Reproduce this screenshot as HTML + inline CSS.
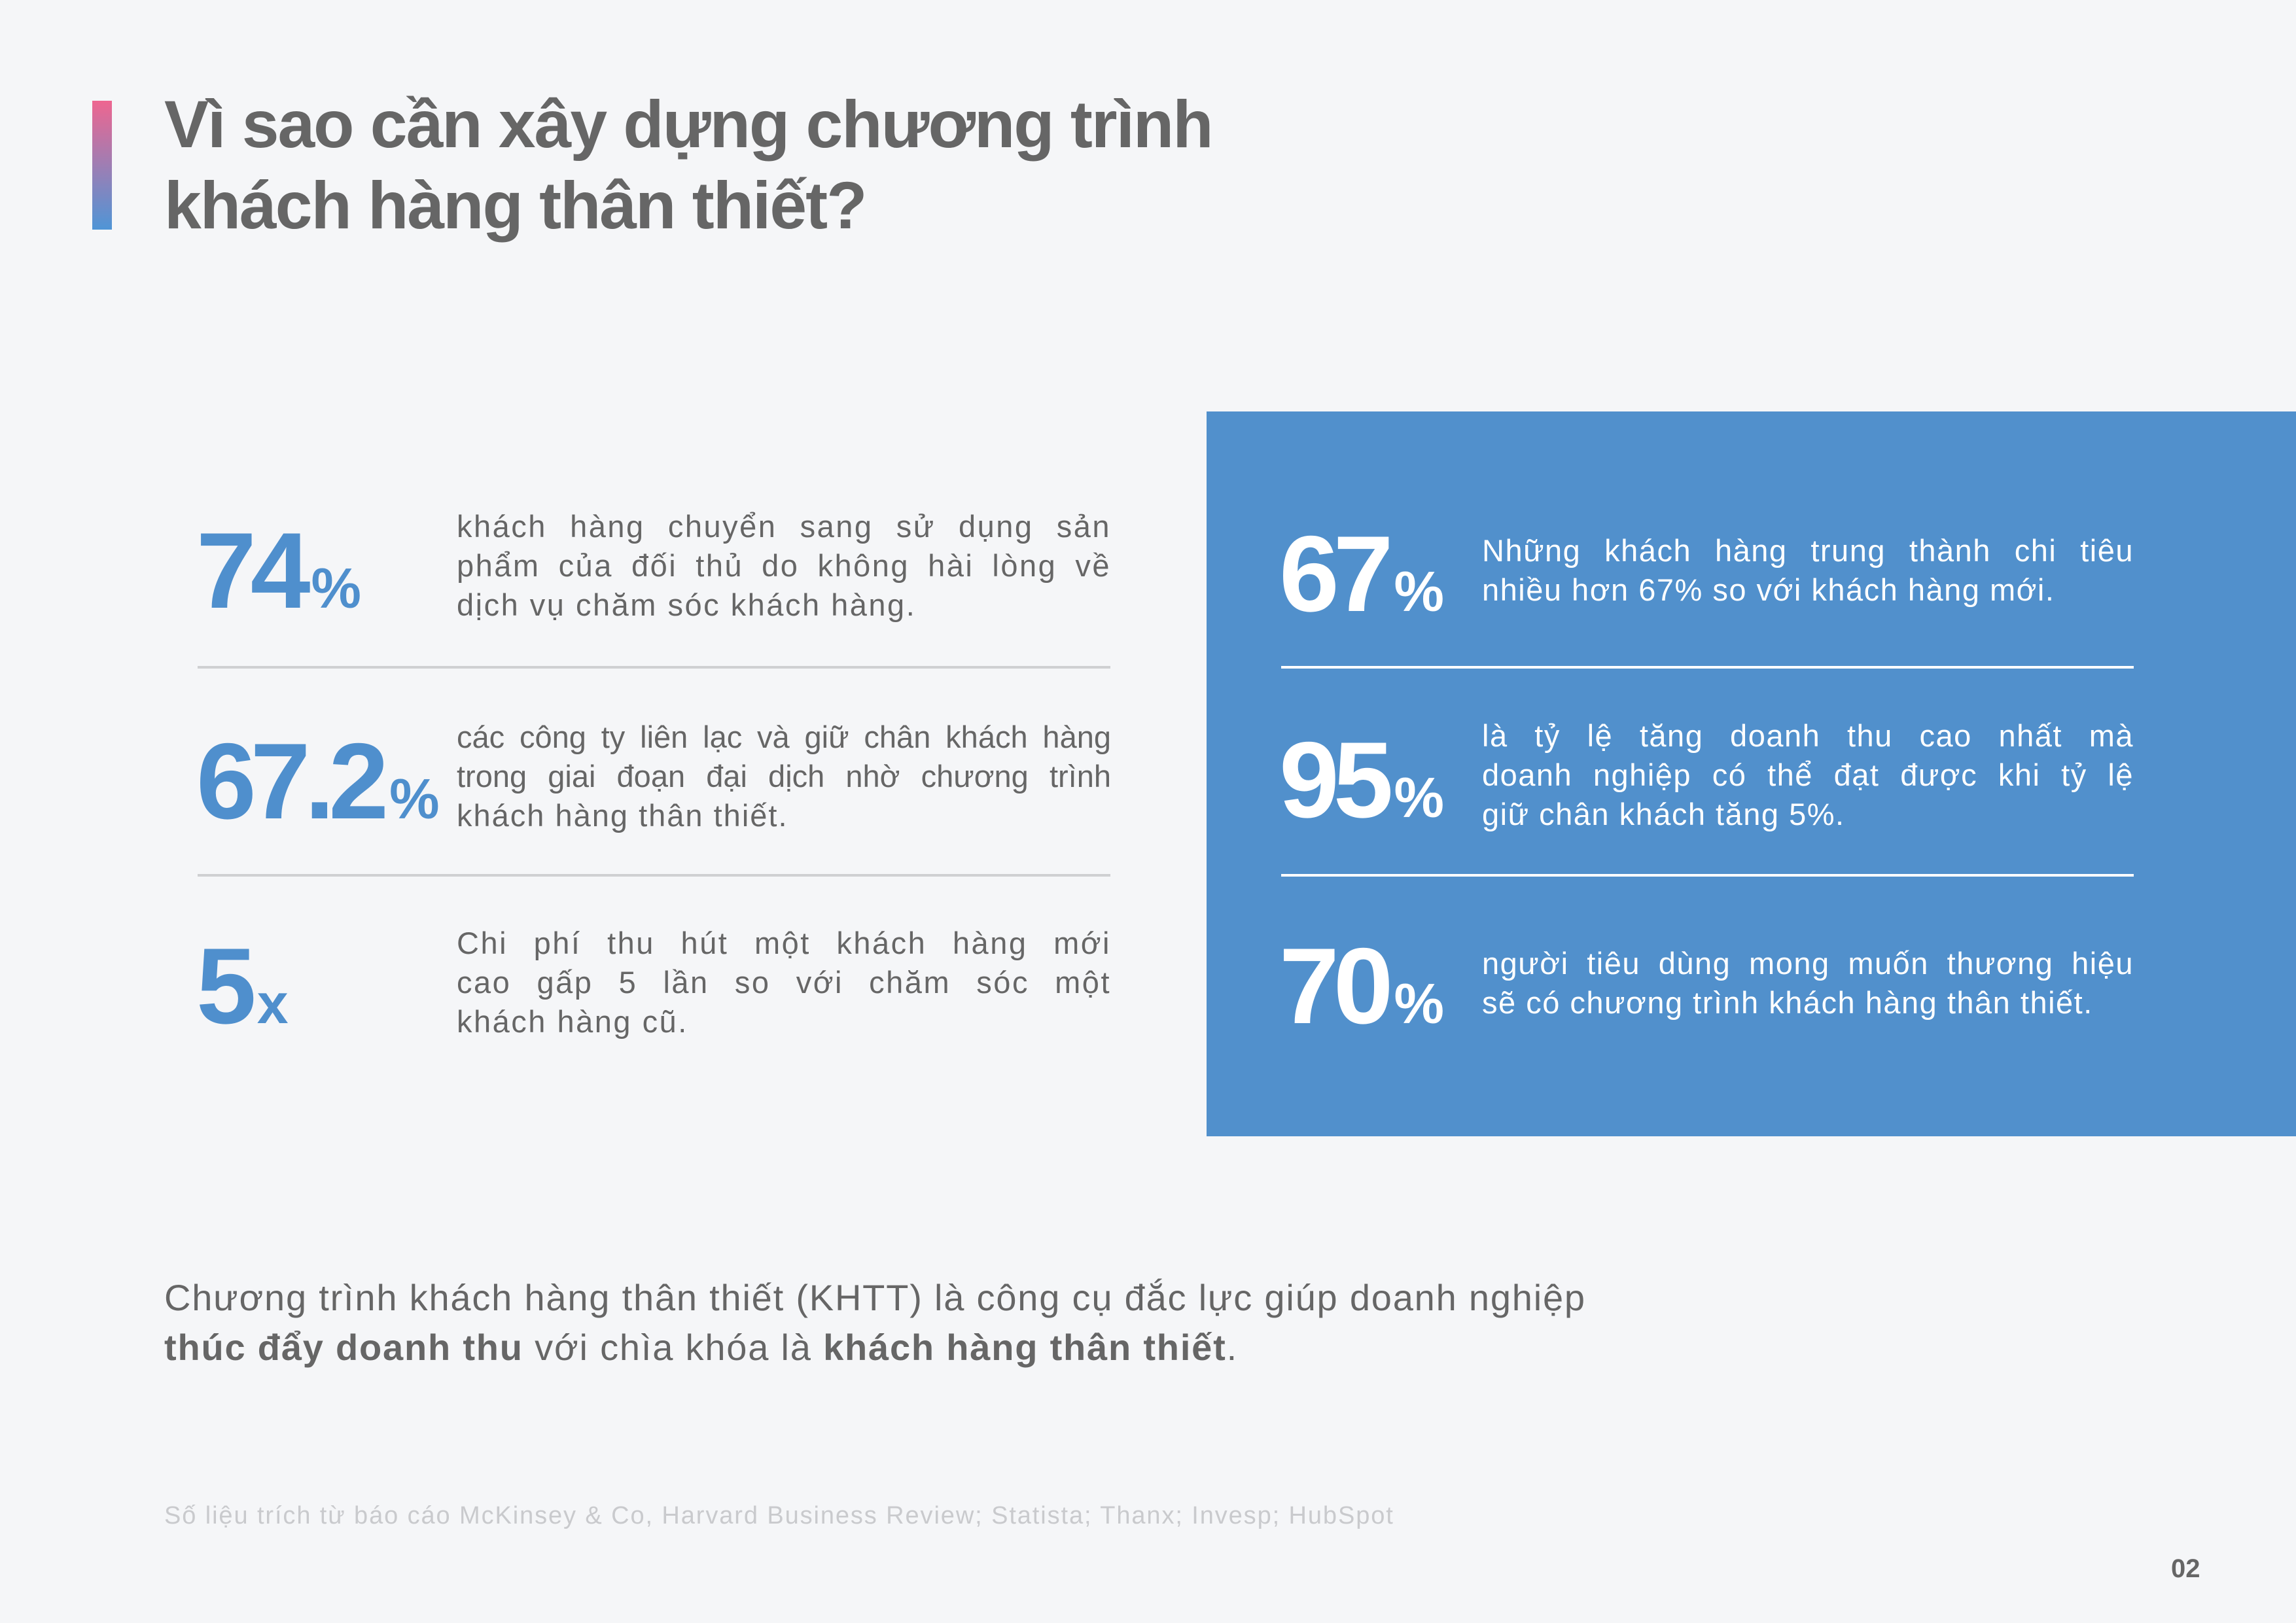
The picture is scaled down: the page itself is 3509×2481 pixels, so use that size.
<!DOCTYPE html>
<html><head><meta charset="utf-8">
<style>
*{margin:0;padding:0;box-sizing:border-box}
html,body{width:3509px;height:2481px;background:#f5f6f8;overflow:hidden;font-family:"Liberation Sans","DejaVu Sans",sans-serif;position:relative}
.abs{position:absolute}
.bar{left:141px;top:154px;width:30px;height:197px;background:linear-gradient(#ee6690,#4f95d6)}
.title{left:251px;top:128px;font-size:102px;font-weight:bold;color:#666;line-height:124px;letter-spacing:-2px}
.box{left:1844px;top:629px;width:1665px;height:1108px;background:#5190cc}
.num{font-weight:bold;font-size:165px;letter-spacing:-9px;line-height:1}
.num span{font-size:86px;letter-spacing:0;margin-left:10px}
.blue{color:#4f8fcd}
.white{color:#fff}
.txt{font-size:47px;line-height:60px;color:#666;width:1000px;letter-spacing:2.5px}
.txt div{text-align:justify;text-align-last:justify;white-space:nowrap}
.txt div.l{text-align-last:left}
.wt{color:#fff;width:996px}
.line{height:4px}
.gl{background:#cfd0d2;left:302px;width:1395px}
.wl{background:#fff;left:1958px;width:1303px}
.para{left:251px;top:1946px;font-size:56px;line-height:76px;color:#666;letter-spacing:1.8px;white-space:nowrap}
.src{left:251px;top:2296px;font-size:38px;color:#c9cacd;letter-spacing:1.9px;white-space:nowrap}
.pg{left:3318px;top:2376px;font-size:40px;font-weight:bold;color:#666}
</style></head><body>
<div class="abs bar"></div>
<div class="abs title">Vì sao cần xây dựng chương trình<br>khách hàng thân thiết?</div>
<div class="abs box"></div>

<div class="abs num blue" style="left:300px;top:790px">74<span>%</span></div>
<div class="abs txt" style="left:698px;top:775px"><div>khách hàng chuyển sang sử dụng sản</div><div>phẩm của đối thủ do không hài lòng về</div><div class="l">dịch vụ chăm sóc khách hàng.</div></div>
<div class="abs line gl" style="top:1018px"></div>

<div class="abs num blue" style="left:300px;top:1112px">67.2<span>%</span></div>
<div class="abs txt" style="left:698px;top:1097px;letter-spacing:0"><div>các công ty liên lạc và giữ chân khách hàng</div><div>trong giai đoạn đại dịch nhờ chương trình</div><div class="l" style="letter-spacing:2px">khách hàng thân thiết.</div></div>
<div class="abs line gl" style="top:1336px"></div>

<div class="abs num blue" style="left:300px;top:1425px">5<span>x</span></div>
<div class="abs txt" style="left:698px;top:1412px"><div>Chi phí thu hút một khách hàng mới</div><div>cao gấp 5 lần so với chăm sóc một</div><div class="l">khách hàng cũ.</div></div>

<div class="abs num white" style="left:1955px;top:795px">67<span>%</span></div>
<div class="abs txt wt" style="left:2265px;top:812px;letter-spacing:1.5px"><div>Những khách hàng trung thành chi tiêu</div><div class="l">nhiều hơn 67% so với khách hàng mới.</div></div>
<div class="abs line wl" style="top:1018px"></div>

<div class="abs num white" style="left:1955px;top:1110px">95<span>%</span></div>
<div class="abs txt wt" style="left:2265px;top:1095px;letter-spacing:1.5px"><div>là tỷ lệ tăng doanh thu cao nhất mà</div><div>doanh nghiệp có thể đạt được khi tỷ lệ</div><div class="l">giữ chân khách tăng 5%.</div></div>
<div class="abs line wl" style="top:1336px"></div>

<div class="abs num white" style="left:1955px;top:1425px">70<span>%</span></div>
<div class="abs txt wt" style="left:2265px;top:1443px;letter-spacing:1.5px"><div>người tiêu dùng mong muốn thương hiệu</div><div class="l">sẽ có chương trình khách hàng thân thiết.</div></div>

<div class="abs para">Chương trình khách hàng thân thiết (KHTT) là công cụ đắc lực giúp doanh nghiệp<br><b>thúc đẩy doanh thu</b> với chìa khóa là <b>khách hàng thân thiết</b>.</div>
<div class="abs src">Số liệu trích từ báo cáo McKinsey &amp; Co, Harvard Business Review; Statista; Thanx; Invesp; HubSpot</div>
<div class="abs pg">02</div>
</body></html>
